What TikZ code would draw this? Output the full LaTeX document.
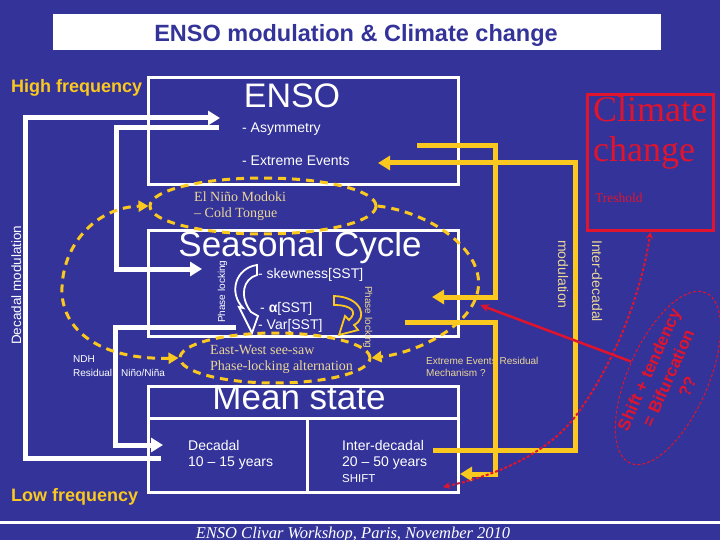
\documentclass[tikz,border=0pt]{standalone}
\usepackage{fontspec}
\setmainfont{Liberation Sans}
\newfontfamily\timesface{Liberation Serif}
\usetikzlibrary{arrows.meta,shapes.geometric}
\newcommand{\pxfont}[1]{\fontsize{#1}{#1}\selectfont}
\definecolor{bgblue}{RGB}{51,51,153}
\definecolor{gold}{RGB}{250,200,30}
\definecolor{pale}{RGB}{235,215,150}
\definecolor{climred}{RGB}{225,20,45}

\begin{document}
\begin{tikzpicture}[x=1pt,y=-1pt,
  wbox/.style={draw=white,line width=3pt,inner sep=0pt,anchor=north west},
  wline/.style={white,line width=5pt,-{Triangle[length=12pt,width=14pt]}},
  yline/.style={gold,line width=5pt,-{Triangle[length=12pt,width=14pt]}},
  ydash/.style={draw=gold,line width=3pt,dash pattern=on 8pt off 6pt},
  ytip/.style={-{Triangle[length=10pt,width=11pt]}},
  lbl/.style={inner sep=0pt,anchor=base west,text=white},
  serif/.style={lbl,text=pale,font=\timesface\pxfont{14}}]

  \fill[bgblue] (0,0) rectangle (720,540);
  \useasboundingbox (0,0) rectangle (720,540);

  \node[fill=white,minimum width=608pt,minimum height=36pt,inner sep=0pt,anchor=north west] (title) at (53,14) {};
  \node[lbl,anchor=base,text=bgblue,font=\bfseries\pxfont{23.5}] (titletext) at (356,42) {ENSO modulation \& Climate change};

  \node[lbl,text=gold,font=\bfseries\pxfont{18}] (high) at (11,93) {High frequency};
  \node[lbl,text=gold,font=\bfseries\pxfont{18}] (low) at (11,501) {Low frequency};

  \node[wbox,minimum width=310pt,minimum height=107pt] (enso) at (147,76) {};
  \node[wbox,minimum width=310pt,minimum height=106pt] (seasonal) at (147,229) {};
  \node[wbox,minimum width=310pt,minimum height=106pt] (mean) at (147,385) {};
  \draw[white,line width=3pt] (147,418) -- (457,418) (307,418) -- (307,491);
  \node[draw=climred,line width=3pt,minimum width=126pt,minimum height=136pt,inner sep=0pt,anchor=north west] (climate) at (586,93) {};

  \node[lbl,anchor=base,font=\pxfont{34}] (ensot) at (292,108) {ENSO};
  \node[lbl,font=\pxfont{14}] (asym) at (242,133) {- Asymmetry};
  \node[lbl,font=\pxfont{14}] (extreme) at (242,166) {- Extreme Events};

  \node[lbl,text=climred,font=\timesface\pxfont{36}] (climt) at (593,122) {Climate};
  \node[lbl,text=climred,font=\timesface\pxfont{36}] (changet) at (593,162) {change};
  \node[lbl,text=climred,font=\timesface\pxfont{13.5}] (tresh) at (595,203) {Treshold};

  \node[lbl,anchor=base,font=\pxfont{35}] (seast) at (300,256) {Seasonal Cycle};
  \node[lbl,font=\pxfont{14}] (skew) at (258,278) {- skewness[SST]};
  \node[lbl,font=\pxfont{14}] (alpha) at (260,312) {- {\bfseries α}[SST]};
  \node[lbl,font=\pxfont{14}] (var) at (258,329) {- Var[SST]};

  \node[lbl,anchor=base,font=\pxfont{35}] (meant) at (299,409) {Mean state};
  \node[lbl,font=\pxfont{14}] (decadal) at (188,450) {Decadal};
  \node[lbl,font=\pxfont{14}] (decyears) at (188,466) {10 – 15 years};
  \node[lbl,font=\pxfont{14}] (inter) at (342,450) {Inter-decadal};
  \node[lbl,font=\pxfont{14}] (interyears) at (342,466) {20 – 50 years};
  \node[lbl,font=\pxfont{11.5}] (shift) at (342,482) {SHIFT};

  \draw[white,line width=3pt] (0,522) -- (720,522);
  \node[lbl,anchor=base,font=\timesface\itshape\pxfont{16.5}] (footer) at (353,538) {ENSO Clivar Workshop, Paris, November 2010};

  \node[lbl,font=\pxfont{10}] (ndh) at (73,362) {NDH};
  \node[lbl,font=\pxfont{10}] (resid) at (73,376) {Residual\hspace{9pt}Niño/Niña};
  \node[lbl,text=pale,font=\pxfont{10}] (evres) at (426,364) {Extreme Events Residual};
  \node[lbl,text=pale,font=\pxfont{10}] (mech) at (426,376) {Mechanism ?};

  \node[lbl,rotate=90,font=\pxfont{13.5}] (decmod) at (21,345) {Decadal modulation};
  \node[lbl,rotate=90,font=\pxfont{10}] (plockw) at (225,323) {Phase locking};
  \node[lbl,rotate=-90,text=pale,font=\pxfont{10}] (plocky) at (365,286) {Phase locking};
  \node[lbl,rotate=-90,text=pale,font=\pxfont{14}] (modul) at (558,240) {modulation};
  \node[lbl,rotate=-90,text=pale,font=\pxfont{14}] (interdec) at (592,240) {Inter-decadal};

  \coordinate (decA) at (161,458);
  \coordinate (ensoA) at (220,118);
  \coordinate (ensoB) at (219,128);
  \coordinate (seasA) at (202,269);
  \coordinate (seasB) at (236,327);
  \coordinate (decB) at (163,445);
  \coordinate (ensoC) at (417,146);
  \coordinate (seasC) at (432,297);
  \coordinate (seasD) at (405,322);
  \coordinate (interA) at (460,474);
  \coordinate (interB) at (433,450);
  \coordinate (ensoD) at (378,163);
  \coordinate (redtip) at (480,305);
  \coordinate (shiftC) at (443,487);

  \draw[wline] (decA) -- ++(-136,0) |- (ensoA);
  \draw[wline] (ensoB) -- ++(-103,0) |- (seasA);
  \draw[wline] (seasB) -- ++(-121,0) |- (decB);
  \draw[yline] (ensoC) -- ++(78,0) |- (seasC);
  \draw[yline] (seasD) -- ++(90,0) |- (interA);
  \draw[yline] (interB) -- ++(142,0) |- (ensoD);

  \draw[white,line width=1.8pt] (257,265) .. controls (236,268) and (228,292) .. (243,308) -- (239,307) -- (252,333) -- (258,316) -- (251,312) .. controls (239,296) and (243,279) .. (257,275) -- cycle;
  \draw[gold,line width=1.8pt] (334,296) .. controls (362,297) and (368,318) .. (354,325) -- (358,330) -- (339,335) -- (345,316) -- (349,320) .. controls (358,312) and (352,305) .. (334,305) -- cycle;

  \node[ydash,ellipse,minimum width=226pt,minimum height=56pt,inner sep=0pt] (modoki) at (263,206) {};
  \node[ydash,ellipse,minimum width=190pt,minimum height=50pt,inner sep=0pt] (seesaw) at (275,358) {};
  \node[serif] (modokit) at (194,202) {El Niño Modoki};
  \node[serif] (tongue) at (194,218) {– Cold Tongue};
  \node[serif] (seesawt) at (210,354) {East-West see-saw};
  \node[serif] (altern) at (210,370) {Phase-locking alternation};

  \draw[ydash,{Triangle[length=10pt,width=11pt]}-{Triangle[length=10pt,width=11pt]}] (seesaw.west) .. controls (100,360) and (60,330) .. (62,287) .. controls (64,240) and (100,207) .. (modoki.west);
  \draw[ydash,ytip] (modoki.east) .. controls (430,212) and (485,250) .. (478,290) .. controls (472,325) and (420,352) .. (seesaw.east);

  \node[ellipse,draw=climred,line width=1pt,dash pattern=on 3pt off 2pt,minimum width=176pt,minimum height=80pt,inner sep=0pt,rotate=66,text=climred,font=\bfseries\fontsize{17}{21}\selectfont,align=center] (bifurc) at (668,378) {Shift + tendency\\= Bifurcation\\??};
  \draw[climred,line width=2.5pt,-{Stealth[length=9pt,width=8pt]}] (bifurc.north) -- (redtip);
  \draw[climred,line width=2pt,dash pattern=on 3pt off 2pt,{Stealth[length=7pt,width=7pt]}-{Stealth[length=7pt,width=7pt]}] (shiftC) .. controls (520,470) and (560,440) .. (580,410) .. controls (612,365) and (640,300) .. (climate.south);
\end{tikzpicture}
\end{document}
